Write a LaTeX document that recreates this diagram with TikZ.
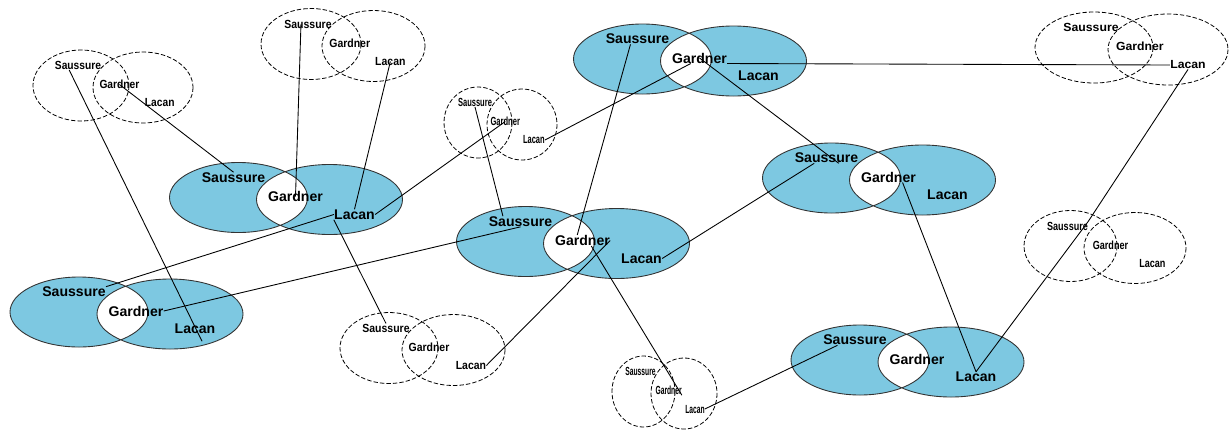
\documentclass[tikz,border=0pt]{standalone}
\definecolor{vennblue}{RGB}{125, 200, 225}
\usepackage{tikz}
\usepackage{fontspec}
\setmainfont{Liberation Sans}

% filled pair: name, centre of left ellipse
\newcommand{\bluepair}[3]{%
  \fill[vennblue, even odd rule] (#2,#3) ellipse (69 and 35) (#2+91,#3+2) ellipse (73 and 35);
  \draw[ring] (#2,#3) ellipse (69 and 35) (#2+91,#3+2) ellipse (73 and 35);
  \node[bigname] (#1s) at (#2-5,#3-20) {Saussure};
  \node[bigname] (#1g) at (#2+57,#3-1) {Gardner};
  \node[bigname] (#1l) at (#2+116,#3+17) {Lacan};}

% dashed pair: name, centre, left radius, offset, right radius, text squeeze
\newcommand{\dashpair}[7]{%
  \draw[dring] (#2,#3) ellipse (#4 and 35.5) (#2+#5,#3+2) ellipse (#6 and 35.5);
  \node[smallname, xscale=#7] (#1s) at (#2-3,#3-20) {Saussure};
  \node[smallname, xscale=#7] (#1g) at (#2+0.62*#5,#3-1) {Gardner};
  \node[smallname, xscale=#7] (#1l) at (#2+1.27*#5,#3+17.5) {Lacan};}

\begin{document}
\begin{tikzpicture}[x=0.02cm, y=-0.02cm,
    bigname/.style={font=\fontsize{8}{9}\selectfont\bfseries, inner sep=0pt},
    smallname/.style={font=\fontsize{6.7}{8}\selectfont\bfseries, inner sep=0pt},
    ring/.style={draw=black!80, line width=0.5pt},
    dring/.style={draw=black, line width=0.45pt, dash pattern=on 2.5pt off 1.2pt},
    link/.style={draw=black, line width=0.5pt}]
    \useasboundingbox (0,0) rectangle (1229,430);
    % Filled pairs
    \bluepair{fa}{238.5}{197.5}
    \bluepair{fb}{79}{312}
    \bluepair{fc}{525.5}{241.5}
    \bluepair{fd}{642.5}{59}
    \bluepair{fe}{831.5}{178}
    \bluepair{ff}{860}{360}
    % Dashed pairs
    \dashpair{da}{81}{85.5}{48}{62}{50}{0.87}
    \dashpair{db}{311}{44}{50}{62.5}{51.5}{0.89}
    \dashpair{dc}{478}{122.5}{34}{44}{35}{0.64}
    \dashpair{dd}{1094}{47.5}{59}{74}{60}{1.04}
    \dashpair{de}{1070.5}{246}{46.5}{64.5}{51}{0.77}
    \dashpair{df}{389}{348}{49}{64.5}{51.5}{0.89}
    \dashpair{dg}{643.5}{391.5}{31.5}{40.5}{33}{0.57}
    % Links
    \draw[link] ([xshift=-5pt]das.south) -- ([xshift=4pt,yshift=-4pt]fbl.south);
    \draw[link] (dag.center) -- (fas.north);
    \draw[link] ([xshift=-4pt]dbs.center) -- (fag.center);
    \draw[link] (dbl.center) -- (fal.north);
    \draw[link] (fal.east) -- (dcg.center);
    \draw[link] (fal.west) -- (fbs.north east);
    \draw[link] (fal.south west) -- (dfs.north);
    \draw[link] (fbg.east) -- (fcs.south);
    \draw[link] (dcs.south) -- ([xshift=-10pt]fcs.north);
    \draw[link] ([xshift=-4pt]fds.south) -- ([xshift=-3pt]fcg.north);
    \draw[link] ([xshift=-5pt]fdg.south) -- (dcl.east);
    \draw[link] (fdg.center) -- ([xshift=7pt]fes.south);
    \draw[link] (fdg.south east) -- (ddl.west);
    \draw[link] (ddl.south) -- (des.north east) -- (ffl.north);
    \draw[link] ([xshift=-7pt]fes.south) -- (fcl.east);
    \draw[link] ([xshift=8pt]feg.south) -- (ffl.north);
    \draw[link] (fcg.east) -- (dfl.east);
    \draw[link] ([xshift=5pt]fcg.south) -- (dgg.south east);
    \draw[link] (dgl.east) -- ([xshift=-10pt]ffs.south);
\end{tikzpicture}
\end{document}
